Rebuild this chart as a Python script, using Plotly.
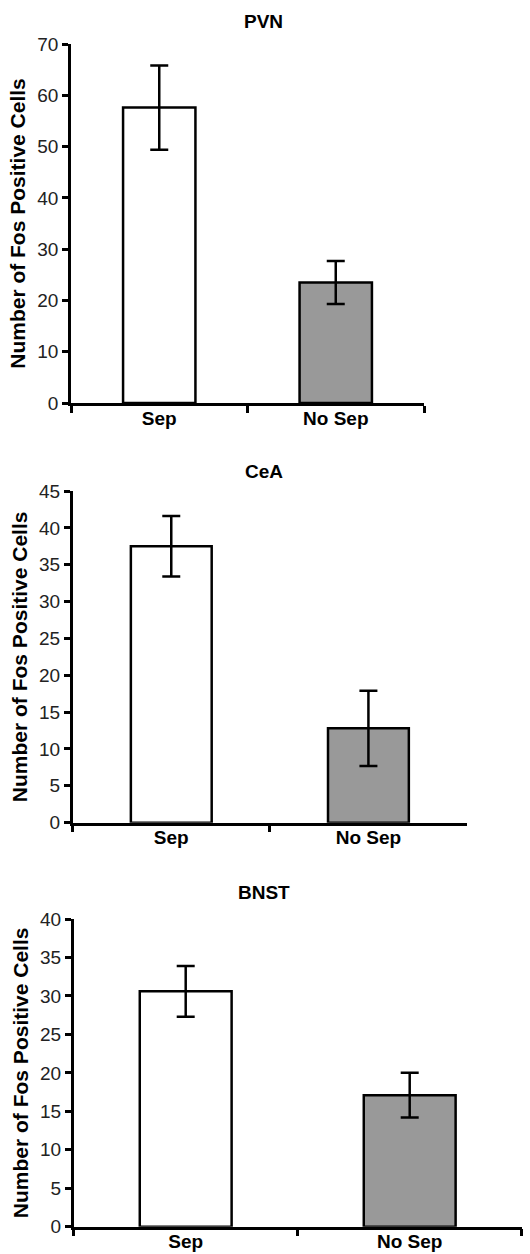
import plotly.graph_objects as go

categories = ["Sep", "No Sep"]
regions = ["PVN", "CeA", "BNST"]
pvn_means = [57.6, 23.5]
pvn_sem = [8.2, 4.2]
cea_means = [37.5, 12.8]
cea_sem = [4.1, 5.1]
bnst_means = [30.6, 17.1]
bnst_sem = [3.3, 2.9]
y_max = [70, 45, 40]
y_dtick = [10, 5, 5]

means = [pvn_means, cea_means, bnst_means]
sems = [pvn_sem, cea_sem, bnst_sem]
bar_colors = ["#ffffff", "#999999"]

W, H = 530, 1254
# plot-area pixel boxes (x0, x1, ytop, ybottom)
boxes = [(71, 424, 44, 403), (72.7, 467, 491, 822.7), (73.7, 521.7, 919, 1226.7)]
title_y = [21, 471, 892]

FONT = "Liberation Sans, Arial, sans-serif"
fig = go.Figure()
for i in range(3):
    x0, x1, yt, yb = boxes[i]
    xa = "x" if i == 0 else f"x{i+1}"
    ya = "y" if i == 0 else f"y{i+1}"
    fig.add_trace(go.Bar(
        x=categories, y=means[i], xaxis=xa, yaxis=ya,
        marker=dict(color=bar_colors, line=dict(color="black", width=2.5)),
        width=0.41,
        error_y=dict(type="data", array=sems[i], color="black", thickness=2.5, width=9),
        showlegend=False,
    ))
    xkey = "xaxis" if i == 0 else f"xaxis{i+1}"
    ykey = "yaxis" if i == 0 else f"yaxis{i+1}"
    fig.layout[xkey] = dict(
        domain=[x0 / W, x1 / W], anchor=ya, showline=True, linecolor="black", linewidth=2.5,
        ticks="outside", tickson="boundaries", ticklen=7, tickwidth=2.5, tickcolor="black",
        showgrid=False, zeroline=False, automargin=False, ticklabelstandoff=-4,
        tickfont=dict(family=FONT, size=19, color="black", weight="bold"),
        range=[-0.5, 1.5],
    )
    fig.layout[ykey] = dict(
        domain=[1 - yb / H, 1 - yt / H], anchor=xa, range=[0, y_max[i]], dtick=y_dtick[i],
        showline=True, linecolor="black", linewidth=2.5, ticks="outside", ticklen=6,
        tickwidth=2.5, tickcolor="black", showgrid=False, zeroline=False, automargin=False,
        tickfont=dict(family=FONT, size=19, color="#222222"),
        title=dict(text="Number of Fos Positive Cells", standoff=6,
                   font=dict(family=FONT, size=21, color="black", weight="bold")),
    )
    fig.add_annotation(text=regions[i], x=0.498, y=1 - title_y[i] / H, xref="paper", yref="paper",
                       showarrow=False, xanchor="center", yanchor="middle",
                       font=dict(family=FONT, size=19, color="black", weight="bold"))

fig.update_layout(width=W, height=H, margin=dict(l=0, r=0, t=0, b=0),
                  plot_bgcolor="white", paper_bgcolor="white", bargap=0.59)
fig.write_html("out.html")
